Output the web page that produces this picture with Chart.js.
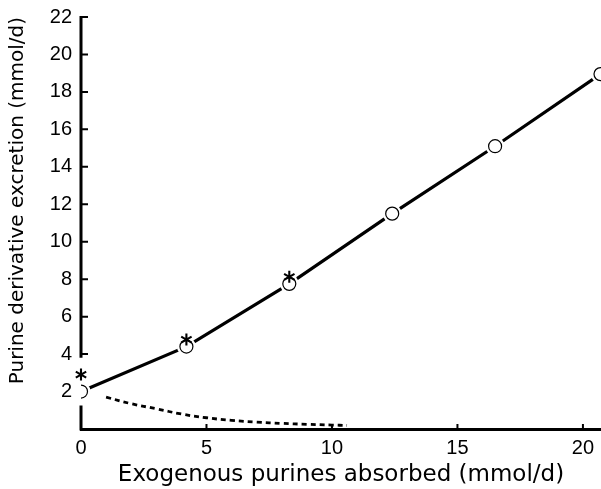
<!DOCTYPE html>
<html>
<head>
<meta charset="utf-8">
<script src="https://cdn.jsdelivr.net/npm/chart.js@4"></script>
<style>
  html, body { margin: 0; padding: 0; background: #fff; overflow: hidden; }
  #wrap { width: 601px; height: 489px; }
  canvas { display: block; }
</style>
</head>
<body>
<div id="wrap"><canvas id="myChart"></canvas></div>
<script>
// measured points (exogenous purines absorbed vs PD excretion)
const absorbed = [0, 4.2, 8.3, 12.4, 16.5, 20.7];
const excretion = [2.0, 4.4, 7.75, 11.5, 15.1, 18.95];
const starred = [true, true, true, false, false, false];

// dashed curve
const curveX = [1.0, 2, 3, 4, 5, 6, 7, 8, 9, 10, 10.6];
const curveY = [1.7, 1.35, 1.08, 0.8, 0.6, 0.46, 0.37, 0.3, 0.25, 0.21, 0.19];

const yTicks = [2, 4, 6, 8, 10, 12, 14, 16, 18, 20, 22];
const xTicks = [0, 5, 10, 15, 20];

const pts = absorbed.map((x, i) => ({x: x, y: excretion[i]}));
const curve = curveX.map((x, i) => ({x: x, y: curveY[i]}));

// axis line (with a break round the first point), inner ticks and asterisks
const extras = {
  id: 'extras',
  afterDraw(chart) {
    const ctx = chart.ctx;
    const xs = chart.scales.x, ys = chart.scales.y;
    const x0 = xs.getPixelForValue(0);
    ctx.save();
    ctx.strokeStyle = '#000';
    ctx.lineWidth = 3;
    ctx.beginPath();
    ctx.moveTo(x0, ys.getPixelForValue(22) - 1);
    ctx.lineTo(x0, ys.getPixelForValue(3.8));
    ctx.moveTo(x0, ys.getPixelForValue(1.25));
    ctx.lineTo(x0, ys.getPixelForValue(0) + 1.5);
    ctx.stroke();

    ctx.lineWidth = 2;
    ctx.beginPath();
    yTicks.forEach(v => {
      if (v === 2) return;
      const y = ys.getPixelForValue(v);
      ctx.moveTo(x0, y);
      ctx.lineTo(x0 + 7, y);
    });
    xTicks.forEach(v => {
      if (v === 0) return;
      const x = xs.getPixelForValue(v);
      const y = ys.getPixelForValue(0);
      ctx.moveTo(x, y);
      ctx.lineTo(x, y - 5);
    });
    ctx.stroke();

    // asterisks
    const meta = chart.getDatasetMeta(2);
    ctx.lineWidth = 2.1;
    meta.data.forEach((el, i) => {
      if (!starred[i]) return;
      const cx = el.x;
      const cy = el.y - (i === 0 ? 17 : 7);
      const r = 6;
      ctx.beginPath();
      for (let k = 0; k < 3; k++) {
        const a = Math.PI / 2 + k * Math.PI / 3;
        ctx.moveTo(cx + r * Math.cos(a), cy - r * Math.sin(a));
        ctx.lineTo(cx - r * Math.cos(a), cy + r * Math.sin(a));
      }
      ctx.stroke();
    });
    ctx.restore();
  }
};

const ctx = document.getElementById('myChart').getContext('2d');
const myChart = new Chart(ctx, {
  type: 'scatter',
  data: {
    datasets: [
      {
        label: 'excretion',
        data: pts,
        showLine: true,
        borderColor: '#000',
        borderWidth: 3.2,
        pointRadius: 0,
        order: 4
      },
      {
        label: 'halo',
        data: pts,
        showLine: false,
        pointRadius: 9.5,
        pointBackgroundColor: '#fff',
        pointBorderWidth: 0,
        order: 3
      },
      {
        label: 'points',
        data: pts,
        showLine: false,
        pointRadius: 6.5,
        pointBackgroundColor: '#fff',
        pointBorderColor: '#000',
        pointBorderWidth: 1.2,
        order: 2
      },
      {
        label: 'endogenous',
        data: curve,
        showLine: true,
        borderColor: '#000',
        borderWidth: 2.8,
        borderDash: [5, 4],
        tension: 0.4,
        pointRadius: 0,
        order: 1
      }
    ]
  },
  options: {
    responsive: true,
    maintainAspectRatio: false,
    animation: false,
    events: [],
    layout: { autoPadding: false, padding: { top: 17, right: 0, left: 0, bottom: 0 } },
    plugins: { legend: { display: false }, tooltip: { enabled: false } },
    scales: {
      x: {
        type: 'linear',
        min: 0,
        max: 20.72,
        afterFit: s => { s.height = 60; s.paddingLeft = 0; s.paddingRight = 0; },
        afterBuildTicks: s => { s.ticks = xTicks.map(v => ({value: v})); },
        grid: { display: false, drawTicks: false },
        border: { display: true, color: '#000', width: 3 },
        ticks: {
          padding: 7,
          color: '#000',
          font: { family: 'Liberation Sans', size: 20 }
        },
        title: {
          display: true,
          text: 'Exogenous purines absorbed (mmol/d)',
          color: '#000',
          padding: { top: 0, bottom: 0 },
          font: { family: 'DejaVu Sans', size: 23 }
        }
      },
      y: {
        type: 'linear',
        min: 0,
        max: 22,
        afterFit: s => { s.width = 81; s.paddingTop = 0; s.paddingBottom = 0; },
        afterBuildTicks: s => { s.ticks = yTicks.map(v => ({value: v})); },
        grid: { display: false, drawTicks: false },
        border: { display: false },
        ticks: {
          padding: 9,
          color: '#000',
          font: { family: 'Liberation Sans', size: 20 }
        },
        title: {
          display: true,
          align: 'end',
          text: 'Purine derivative excretion (mmol/d)',
          color: '#000',
          padding: { top: 6, bottom: 0 },
          font: { family: 'DejaVu Sans', size: 20 }
        }
      }
    }
  },
  plugins: [extras]
});
</script>
</body>
</html>
